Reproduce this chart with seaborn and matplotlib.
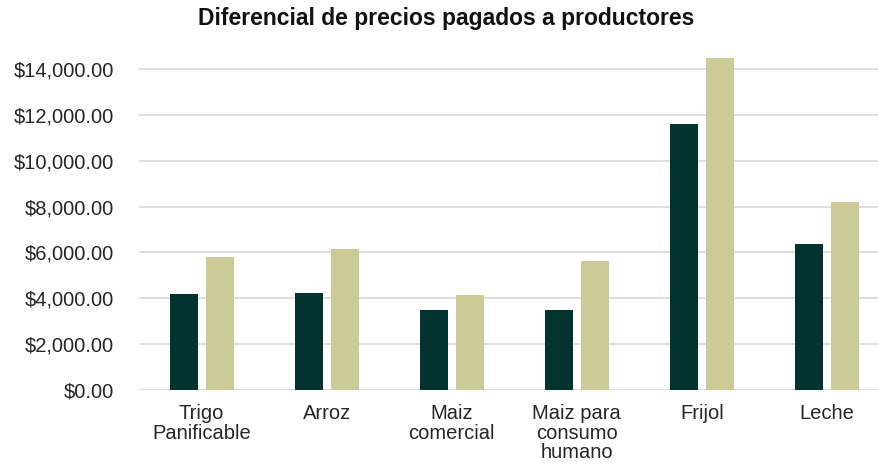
import matplotlib
matplotlib.use("Agg")
import matplotlib.pyplot as plt
import seaborn as sns
import pandas as pd
from matplotlib.ticker import FuncFormatter

categories = ["Trigo\nPanificable", "Arroz", "Maiz\ncomercial", "Maiz para\nconsumo\nhumano", "Frijol", "Leche"]
serie_a = [4190, 4210, 3510, 3510, 11590, 6370]
serie_b = [5790, 6130, 4150, 5620, 14500, 8190]
series_names = ["Serie 1", "Serie 2"]
colors = ["#03332f", "#cccb98"]

df = pd.DataFrame({
    "cat": categories * 2,
    "val": serie_a + serie_b,
    "serie": [series_names[0]] * len(categories) + [series_names[1]] * len(categories),
})

sns.set_theme(style="white")
plt.rcParams["font.family"] = ["Liberation Sans", "DejaVu Sans"]

ymax = 14650
px_per_unit = (390 - 69) / 14000
top_px = 390 - ymax * px_per_unit

fig = plt.figure(figsize=(8.79, 4.68), dpi=100)
ax = fig.add_axes([139 / 879, 1 - 390 / 468, 1 - 139 / 879, (390 - top_px) / 468])

sns.barplot(data=df, x="cat", y="val", hue="serie", order=categories,
            palette=colors, width=0.576, gap=0.222, ax=ax, legend=False,
            saturation=1, errorbar=None)
for p in ax.patches:
    p.set_linewidth(0)

ax.set_ylim(0, ymax)
ax.set_yticks(range(0, 14001, 2000))
ax.set_xlim(-0.5, 5.416)
ax.yaxis.set_major_formatter(FuncFormatter(lambda v, _: f"${v:,.2f}"))
ax.grid(axis="y", color="#d9d9d9", linewidth=1.2)
ax.set_axisbelow(True)
for s in ax.spines.values():
    s.set_visible(False)
ax.set_xlabel("")
ax.set_ylabel("")
ax.tick_params(axis="y", labelsize=14.5, colors="#262626", pad=18, length=0)
ax.tick_params(axis="x", labelsize=14.5, colors="#262626", pad=10, length=0)
for t in ax.get_xticklabels():
    t.set_linespacing(1.05)
    t.set_verticalalignment("top")

fig.text(446.5 / 879, 1 - 18 / 468, "Diferencial de precios pagados a productores",
         ha="center", va="center", fontsize=16.5, fontweight="bold", color="#111111")

fig.savefig("out.png", dpi=100)
